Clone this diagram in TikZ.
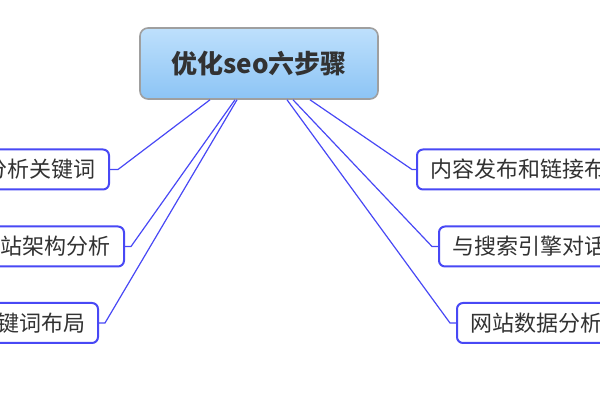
\documentclass[tikz,border=0pt]{standalone}
\usepackage{fontspec}
\newfontfamily\cjk{Noto Sans CJK SC}
\definecolor{linkblue}{RGB}{72,72,245}
\definecolor{textgray}{RGB}{50,50,50}
\definecolor{topiclight}{RGB}{190,224,252}
\definecolor{topicdark}{RGB}{140,196,245}
\begin{document}
\begin{tikzpicture}[x=0.5pt,y=-0.5pt,
    topic/.style={draw=gray!75, line width=0.8pt, rounded corners=4pt,
        top color=topiclight, bottom color=topicdark,
        minimum width=119pt, minimum height=35.5pt, text=textgray,
        font=\cjk\bfseries\fontsize{13pt}{15pt}\selectfont},
    leaf/.style={draw=linkblue, line width=1pt, rounded corners=3pt,
        fill=white, minimum height=20pt, inner xsep=6.5pt, text=textgray,
        font=\cjk\fontsize{11pt}{13pt}\selectfont},
    link/.style={draw=linkblue, line width=0.6pt}]

    % Picture frame, the branches run off both edges
    \useasboundingbox (0,0) rectangle (600,400);
    \clip (0,0) rectangle (600,400);

    % Central topic
    \node[topic] (root) at (259,63.5) {优化seo六步骤};

    % Branches on the left, placed by their right edge
    \node[leaf, anchor=east] (kw) at (110,169.5) {分析关键词};
    \node[leaf, anchor=east] (site) at (125,246.5) {网站架构分析};
    \node[leaf, anchor=east] (layout) at (99,323) {关键词布局};

    % Branches on the right, placed by their left edge
    \node[leaf, anchor=west] (post) at (416,169.5) {内容发布和链接布局};
    \node[leaf, anchor=west] (talk) at (438,246.5) {与搜索引擎对话};
    \node[leaf, anchor=west] (data) at (456,323) {网站数据分析};

    % Connectors from the bottom of the topic, with a short stub at each box
    \draw[link] ([xshift=-24.5pt]root.south) -- ([xshift=4pt]kw.east) -- (kw.east);
    \draw[link] ([xshift=-12pt]root.south) -- ([xshift=3pt]site.east) -- (site.east);
    \draw[link] ([xshift=-11pt]root.south) -- ([xshift=3pt]layout.east) -- (layout.east);
    \draw[link] ([xshift=25.5pt]root.south) -- ([xshift=-2pt]post.west) -- (post.west);
    \draw[link] ([xshift=17pt]root.south) -- ([xshift=-3pt]talk.west) -- (talk.west);
    \draw[link] ([xshift=14pt]root.south) -- ([xshift=-3pt]data.west) -- (data.west);

\end{tikzpicture}
\end{document}
